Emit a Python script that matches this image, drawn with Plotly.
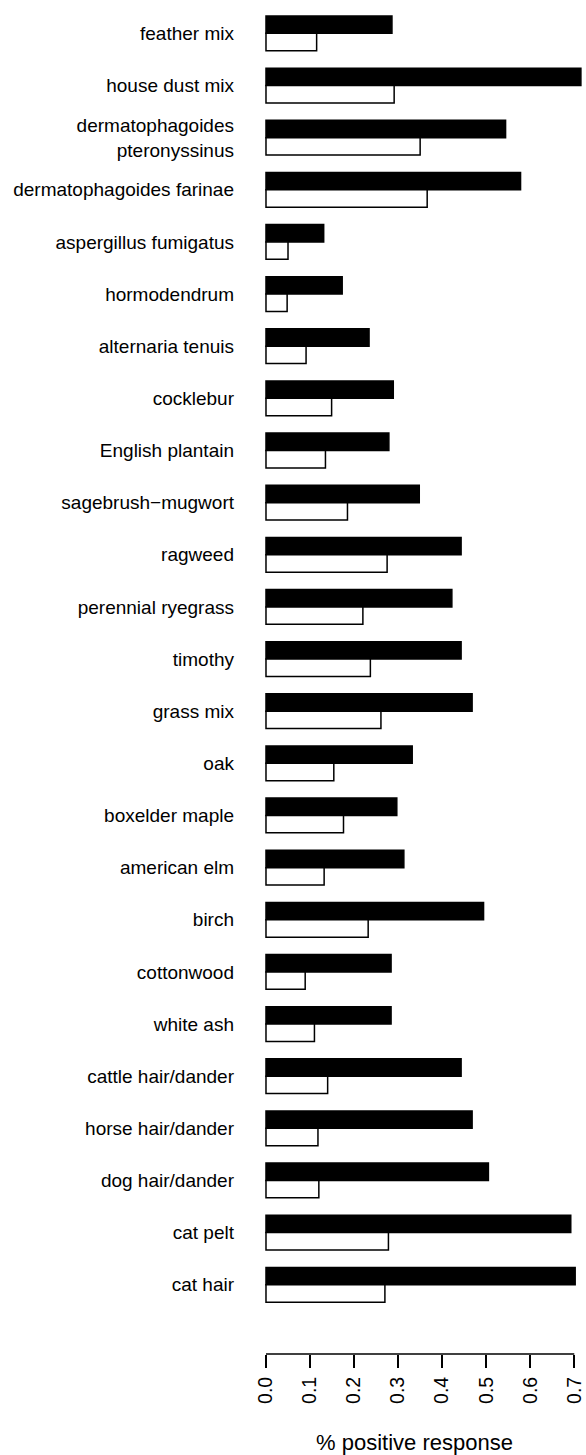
import plotly.graph_objects as go

categories = ["feather mix", "house dust mix", "dermatophagoides<br>pteronyssinus",
              "dermatophagoides farinae", "aspergillus fumigatus", "hormodendrum",
              "alternaria tenuis", "cocklebur", "English plantain", "sagebrush\u2212mugwort",
              "ragweed", "perennial ryegrass", "timothy", "grass mix", "oak",
              "boxelder maple", "american elm", "birch", "cottonwood", "white ash",
              "cattle hair/dander", "horse hair/dander", "dog hair/dander", "cat pelt", "cat hair"]

series_black = [0.286, 0.715, 0.544, 0.578, 0.131, 0.173, 0.234, 0.289, 0.279, 0.348,
                0.443, 0.422, 0.443, 0.468, 0.332, 0.297, 0.313, 0.494, 0.284, 0.284,
                0.443, 0.468, 0.505, 0.692, 0.702]
series_white = [0.115, 0.291, 0.350, 0.366, 0.050, 0.048, 0.091, 0.149, 0.135, 0.185,
                0.275, 0.220, 0.237, 0.261, 0.154, 0.176, 0.132, 0.232, 0.089, 0.110,
                0.140, 0.118, 0.120, 0.278, 0.270]

x_ticks = [0.0, 0.1, 0.2, 0.3, 0.4, 0.5, 0.6, 0.7]
x_tick_text = ["0.0", "0.1", "0.2", "0.3", "0.4", "0.5", "0.6", "0.7"]

FONT = "Liberation Sans, Arial, Helvetica, sans-serif"

fig = go.Figure()
fig.add_trace(go.Bar(
    y=categories, x=series_black, orientation="h", name="black",
    marker=dict(color="black", line=dict(color="black", width=1.5)),
))
fig.add_trace(go.Bar(
    y=categories, x=series_white, orientation="h", name="white",
    marker=dict(color="white", line=dict(color="black", width=1.5)),
))

# baseline of x axis spanning only the tick range
fig.add_shape(type="line", xref="x", yref="paper",
              x0=x_ticks[0], x1=x_ticks[-1], y0=0, y1=0,
              line=dict(color="black", width=1.5))

fig.update_layout(
    width=586, height=1455,
    margin=dict(l=243, r=0, t=0, b=101),
    paper_bgcolor="white", plot_bgcolor="white",
    barmode="group", bargap=1/3, bargroupgap=0,
    showlegend=False,
    font=dict(family=FONT, color="black", size=19),
    xaxis=dict(
        range=[-0.0522, 0.7266],
        tickvals=x_ticks, ticktext=x_tick_text,
        tickangle=-90,
        ticks="outside", ticklen=13, tickwidth=1.5, tickcolor="black",
        showgrid=False, zeroline=False, showline=False,
        tickfont=dict(size=19.5, family=FONT, color="black"),
        ticklabelstandoff=1,
        title=dict(text="% positive response", font=dict(size=22, family=FONT, color="black"),
                   standoff=33),
    ),
    yaxis=dict(
        type="category",
        range=[25.328, -0.640],
        showgrid=False, zeroline=False, showline=False,
        ticks="", ticklabelstandoff=8,
        tickfont=dict(size=19, family=FONT, color="black"),
    ),
)

fig.write_html("out.html")
